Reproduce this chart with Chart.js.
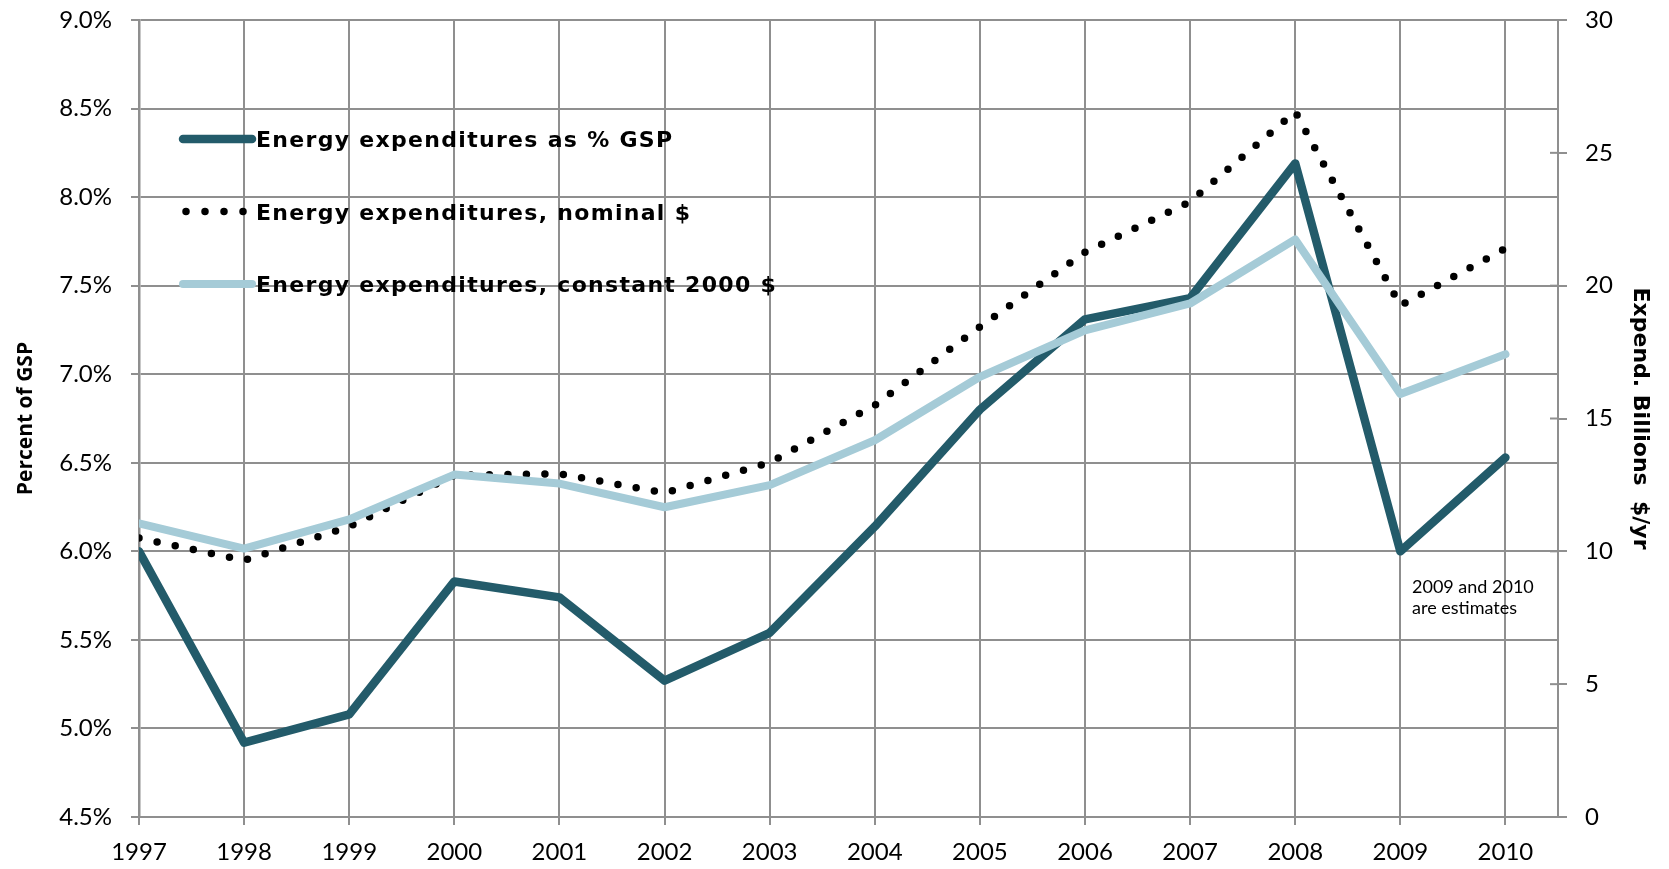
<!DOCTYPE html>
<html>
<head>
<meta charset="utf-8">
<script src="https://cdn.jsdelivr.net/npm/chart.js@4.4.0/dist/chart.umd.min.js"></script>
<style>
  html, body { margin: 0; padding: 0; background: #fff; }
  #wrap { position: relative; width: 1669px; height: 869px; }
</style>
</head>
<body>
<div id="wrap"><canvas id="energy-chart"></canvas></div>
<script>
'use strict';

// data
const years = [1997, 1998, 1999, 2000, 2001, 2002, 2003, 2004, 2005, 2006, 2007, 2008, 2009, 2010];
const pct_gsp = [6.00, 4.92, 5.08, 5.83, 5.74, 5.27, 5.54, 6.14, 6.80, 7.31, 7.43, 8.19, 6.00, 6.53];
const nominal_bn = [10.50, 9.66, 10.93, 12.87, 12.92, 12.20, 13.34, 15.50, 18.45, 21.26, 23.16, 26.55, 19.25, 21.40];
const constant_bn = [11.05, 10.10, 11.20, 12.89, 12.55, 11.66, 12.49, 14.18, 16.57, 18.32, 19.33, 21.74, 15.92, 17.42];
const series_labels = [
  "Energy expenditures as % GSP",
  "Energy expenditures, nominal $",
  "Energy expenditures, constant 2000 $"
];
const note_lines = ["2009 and 2010", "are estimates"];

const GRID = '#8f8f8f';
Chart.defaults.font.family = 'Lato';
Chart.defaults.color = '#000';

function to_points(vals) {
  return years.map((yr, i) => ({ x: yr, y: vals[i] }));
}

// keep the plot box where the original has it
function no_pad(s) {
  s.paddingTop = 0;
  s.paddingBottom = 0;
  s.paddingLeft = 0;
  s.paddingRight = 0;
}

// legend sits inside the plot, plus the "estimates" note
const inside_legend = {
  id: 'inside_legend',
  afterDraw(chart) {
    const c = chart.ctx;
    const area = chart.chartArea;

    // right axis ticks cross the axis line
    const r = chart.scales.y1;
    c.save();
    c.strokeStyle = GRID;
    c.lineWidth = 2;
    r.ticks.forEach((t) => {
      const py = r.getPixelForValue(t.value);
      c.beginPath();
      c.moveTo(area.right - 8, py);
      c.lineTo(area.right, py);
      c.stroke();
    });
    c.restore();

    const x0 = area.left + 44, x1 = area.left + 113;
    chart.data.datasets.forEach((ds, i) => {
      const y = area.top + 119 + i * 72.5;
      c.save();
      c.strokeStyle = ds.borderColor;
      c.lineWidth = ds.borderWidth;
      c.lineCap = 'round';
      c.setLineDash(ds.borderDash ? [0, 19] : []);
      c.beginPath();
      c.moveTo(x0 + (ds.borderDash ? 3 : 0), y);
      c.lineTo(x1, y);
      c.stroke();
      c.setLineDash([]);
      c.fillStyle = '#000';
      c.font = 'bold 22px "DejaVu Sans"';
      c.letterSpacing = '1.3px';
      c.textBaseline = 'alphabetic';
      c.fillText(ds.label, x1 + 4, y + 8);
      c.restore();
    });
    c.save();
    c.fillStyle = '#000';
    c.font = '18px Lato';
    note_lines.forEach((t, i) => c.fillText(t, 1412, 593 + i * 21));
    c.restore();
  }
};

var ctx = document.querySelector('#energy-chart').getContext('2d');
var energyChart = new Chart(ctx, {
  type: 'line',
  data: {
    datasets: [
      {
        label: series_labels[0],
        data: to_points(pct_gsp),
        borderColor: '#235b6a',
        borderWidth: 8.5,
        yAxisID: 'y',
        order: 3,
      },
      {
        label: series_labels[1],
        data: to_points(nominal_bn),
        borderColor: '#000',
        borderWidth: 7.5,
        borderDash: [0, 18.5],
        yAxisID: 'y1',
        order: 2,
      },
      {
        label: series_labels[2],
        data: to_points(constant_bn),
        borderColor: '#a5cbd7',
        borderWidth: 8,
        yAxisID: 'y1',
        order: 1,
      },
    ],
  },
  options: {
    responsive: true,
    maintainAspectRatio: false,
    animation: false,
    layout: { padding: { top: 20 } },
    elements: {
      line: { tension: 0, borderCapStyle: 'round', borderJoinStyle: 'round' },
      point: { radius: 0, hoverRadius: 0 },
    },
    plugins: {
      legend: { display: false },
      tooltip: { enabled: false },
    },
    scales: {
      x: {
        type: 'linear',
        min: 1997,
        max: 2010.5,
        ticks: {
          stepSize: 1,
          includeBounds: false,
          autoSkip: false,
          maxRotation: 0,
          padding: 13,
          font: { size: 24 },
          callback: (v) => String(v),
        },
        grid: { color: GRID, lineWidth: 2, tickLength: 8 },
        border: { color: GRID, width: 2 },
        afterFit: (s) => { s.height = 52; no_pad(s); },
      },
      y: {
        position: 'left',
        min: 4.5,
        max: 9.0,
        ticks: {
          stepSize: 0.5,
          padding: 19,
          font: { size: 24 },
          callback: (v) => v.toFixed(1) + '%',
        },
        grid: { color: GRID, lineWidth: 2, tickLength: 8 },
        border: { color: GRID, width: 2.5 },
        title: {
          display: true,
          text: 'Percent of GSP',
          font: { family: 'Open Sans', weight: 'bold', size: 21 },
          padding: { top: 13, bottom: 0 },
        },
        afterFit: (s) => { s.width = 139; no_pad(s); },
      },
      y1: {
        position: 'right',
        min: 0,
        max: 30,
        ticks: { stepSize: 5, padding: 18, font: { size: 24 } },
        grid: { drawOnChartArea: false, color: GRID, lineWidth: 2, tickLength: 9 },
        border: { color: GRID, width: 2 },
        title: {
          display: true,
          text: 'Expend. Billions  $/yr',
          font: { family: 'DejaVu Sans', weight: 'bold', size: 22 },
          padding: { top: 16, bottom: 0 },
        },
        afterFit: (s) => { s.width = 111; no_pad(s); },
      },
    },
  },
  plugins: [inside_legend],
});
</script>
</body>
</html>
